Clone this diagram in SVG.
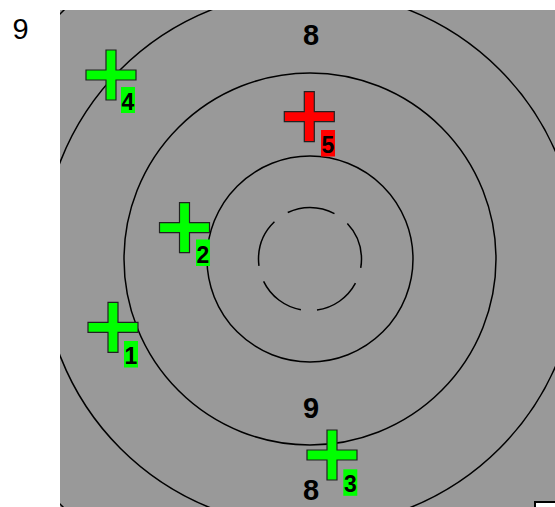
<svg xmlns="http://www.w3.org/2000/svg" width="555" height="507" viewBox="0 0 555 507">
<style>
.ring{fill:none;stroke:#000;stroke-width:1.5}
.big{font-family:"Liberation Sans",Arial,sans-serif;font-size:29px;text-anchor:middle;fill:#000}
.cross{stroke:#222;stroke-width:1.2}
.g{fill:#00ff00}
.r{fill:#ff0000}
.lbl{font-family:"Liberation Sans",Arial,sans-serif;font-size:23px;font-weight:bold;text-anchor:middle;fill:#000}
</style>
<defs>
<path id="plus" d="M-5,-25 H5 V-5 H25 V5 H5 V25 H-5 V5 H-25 V-5 H-5 Z"/>
<clipPath id="field"><rect x="60" y="10" width="495" height="497"/></clipPath>
</defs>
<rect x="0" y="0" width="555" height="507" fill="#fff"/>
<rect x="60" y="10" width="495" height="497" fill="#999999"/>
<g id="rings" clip-path="url(#field)">
<circle class="ring" cx="310" cy="259" r="51.5" stroke-dasharray="48.5 16.2" stroke-dashoffset="39.5"/>
<circle class="ring" cx="310" cy="259" r="103"/>
<circle class="ring" cx="310" cy="259" r="186"/>
<circle class="ring" cx="310" cy="259" r="268"/>
<circle class="ring" cx="310" cy="259" r="350"/>
</g>
<rect x="535" y="502" width="30" height="20" fill="#fff" stroke="#000" stroke-width="2"/>
<text class="big" x="20.5" y="39">9</text>
<text class="big" x="311" y="45" font-weight="bold">8</text>
<text class="big" x="311" y="418" font-weight="bold">9</text>
<text class="big" x="311" y="500" font-weight="bold">8</text>
<g id="node4">
<use href="#plus" class="cross g" x="111" y="75"/>
<rect class="g" x="121" y="87" width="14" height="26"/>
<text class="lbl" x="128" y="110">4</text>
</g>
<g id="node5">
<use href="#plus" class="cross r" x="309.3" y="116.7"/>
<rect class="r" x="321" y="130" width="14" height="26.5"/>
<text class="lbl" x="328" y="153">5</text>
</g>
<g id="node2">
<use href="#plus" class="cross g" x="184.5" y="227.7"/>
<rect class="g" x="196" y="239.5" width="14" height="26.5"/>
<text class="lbl" x="203" y="262.5">2</text>
</g>
<g id="node1">
<use href="#plus" class="cross g" x="113" y="327.3"/>
<rect class="g" x="124" y="341" width="14" height="26.5"/>
<text class="lbl" x="131" y="364">1</text>
</g>
<g id="node3">
<use href="#plus" class="cross g" x="332" y="455"/>
<rect class="g" x="343.3" y="469.3" width="14" height="26.5"/>
<text class="lbl" x="350.3" y="492.3">3</text>
</g>
<g id="connectors"></g>
</svg>
